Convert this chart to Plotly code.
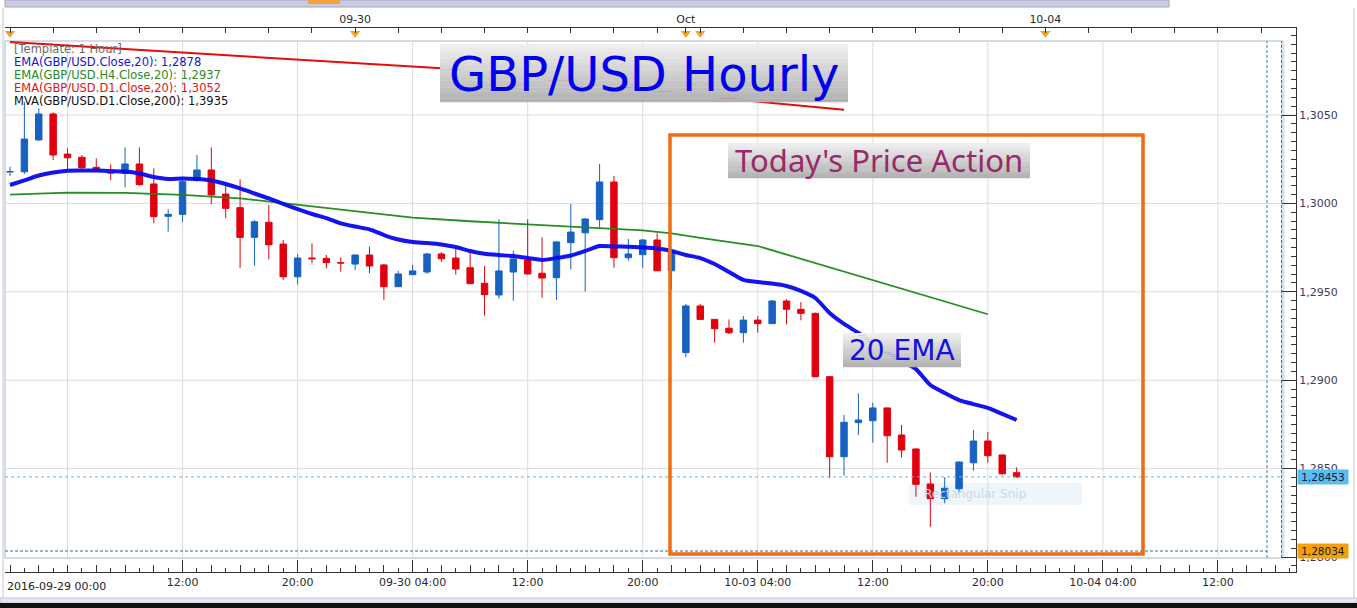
import plotly.graph_objects as go
import pandas as pd

# ---------------- data ----------------
times = (list(pd.date_range("2016-09-29 00:00", periods=47, freq="h"))
         + list(pd.date_range("2016-10-02 23:00", periods=24, freq="h")))
times = [t.strftime("%Y-%m-%d %H:%M") for t in times]

opens = [1.30178, 1.30179, 1.30359, 1.30506, 1.30279, 1.30261, 1.30204, 1.30176, 1.30170, 1.30223,
         1.30110, 1.29927, 1.29938, 1.30132, 1.30189, 1.30053, 1.29976, 1.29808, 1.29893, 1.29770,
         1.29585, 1.29691, 1.29689, 1.29666, 1.29657, 1.29708, 1.29652, 1.29529, 1.29597, 1.29612,
         1.29714, 1.29691, 1.29636, 1.29548, 1.29482, 1.29612, 1.29680, 1.29605, 1.29580, 1.29778,
         1.29834, 1.29908, 1.30121, 1.29693, 1.29710, 1.29793, 1.29619, 1.29156, 1.29420, 1.29344,
         1.29294, 1.29269, 1.29340, 1.29320, 1.29448, 1.29401, 1.29378, 1.29020, 1.28567, 1.28760,
         1.28771, 1.28843, 1.28690, 1.28611, 1.28413, 1.28330, 1.28386, 1.28533, 1.28656, 1.28577,
         1.28477]
highs = [1.30208, 1.30574, 1.30538, 1.30515, 1.30312, 1.30274, 1.30255, 1.30221, 1.30317, 1.30317,
         1.30199, 1.29967, 1.30132, 1.30274, 1.30317, 1.30104, 1.30136, 1.29906, 1.29991, 1.29793,
         1.29714, 1.29774, 1.29708, 1.29695, 1.29712, 1.29755, 1.29657, 1.29618, 1.29652, 1.29720,
         1.29725, 1.29752, 1.29725, 1.29646, 1.29910, 1.29731, 1.29910, 1.29808, 1.29785, 1.29997,
         1.29917, 1.30223, 1.30155, 1.29799, 1.29799, 1.29831, 1.29736, 1.29431, 1.29431, 1.29346,
         1.29344, 1.29363, 1.29363, 1.29454, 1.29458, 1.29442, 1.29383, 1.29024, 1.28803, 1.28926,
         1.28873, 1.28846, 1.28747, 1.28614, 1.28479, 1.28451, 1.28540, 1.28718, 1.28707, 1.28580,
         1.28507]
lows = [1.30155, 1.30166, 1.30355, 1.30245, 1.30193, 1.30195, 1.30179, 1.30132, 1.30091, 1.30100,
        1.29887, 1.29840, 1.29893, 1.30123, 1.29995, 1.29916, 1.29636, 1.29648, 1.29684, 1.29567,
        1.29542, 1.29661, 1.29633, 1.29614, 1.29623, 1.29605, 1.29454, 1.29527, 1.29595, 1.29601,
        1.29670, 1.29597, 1.29544, 1.29365, 1.29463, 1.29450, 1.29598, 1.29467, 1.29454, 1.29627,
        1.29501, 1.29865, 1.29636, 1.29676, 1.29636, 1.29618, 1.29510, 1.29130, 1.29343, 1.29212,
        1.29260, 1.29212, 1.29269, 1.29318, 1.29316, 1.29339, 1.29017, 1.28447, 1.28460, 1.28690,
        1.28646, 1.28533, 1.28562, 1.28341, 1.28171, 1.28304, 1.28360, 1.28488, 1.28533, 1.28464,
        1.28450]
closes = [1.30180, 1.30364, 1.30506, 1.30274, 1.30258, 1.30202, 1.30189, 1.30172, 1.30223, 1.30106,
          1.29925, 1.29938, 1.30123, 1.30189, 1.30048, 1.29972, 1.29808, 1.29896, 1.29766, 1.29585,
          1.29691, 1.29687, 1.29665, 1.29663, 1.29708, 1.29646, 1.29529, 1.29601, 1.29618, 1.29714,
          1.29687, 1.29629, 1.29546, 1.29484, 1.29618, 1.29686, 1.29601, 1.29578, 1.29782, 1.29838,
          1.29912, 1.30121, 1.29693, 1.29714, 1.29793, 1.29619, 1.29719, 1.29420, 1.29344, 1.29291,
          1.29269, 1.29340, 1.29320, 1.29448, 1.29401, 1.29378, 1.29020, 1.28567, 1.28762, 1.28775,
          1.28843, 1.28686, 1.28605, 1.28411, 1.28330, 1.28389, 1.28537, 1.28656, 1.28573, 1.28471,
          1.28453]

ema20 = [1.30104, 1.30130, 1.30158, 1.30175, 1.30185, 1.30186, 1.30186, 1.30183, 1.30180, 1.30169,
         1.30149, 1.30138, 1.30141, 1.30138, 1.30130, 1.30110, 1.30085, 1.30056, 1.30028, 1.29997,
         1.29968, 1.29940, 1.29917, 1.29887, 1.29869, 1.29853, 1.29821, 1.29796, 1.29782, 1.29776,
         1.29768, 1.29753, 1.29731, 1.29715, 1.29708, 1.29702, 1.29691, 1.29680, 1.29691, 1.29705,
         1.29731, 1.29759, 1.29756, 1.29755, 1.29751, 1.29745, 1.29731, 1.29708, 1.29691, 1.29657,
         1.29612, 1.29567, 1.29555, 1.29547, 1.29533, 1.29505, 1.29465, 1.29380, 1.29318, 1.29267,
         1.29210, 1.29159, 1.29109, 1.29063, 1.28973, 1.28928, 1.28888, 1.28865, 1.28843, 1.28809,
         1.28775]

h4_slots = [0, 4, 8, 12, 16, 20, 24, 28, 32, 36, 40, 44, 46, 48, 52, 68]
h4_vals = [1.30050, 1.30061, 1.30059, 1.30048, 1.30029, 1.29993, 1.29960, 1.29920, 1.29899, 1.29881,
           1.29864, 1.29847, 1.29831, 1.29805, 1.29759, 1.29373]

d1_slots = [0, 30, 53, 58]
d1_vals = [1.30913, 1.30764, 1.30568, 1.30530]

last_price = 1.28453
low_line = 1.28034

legend_lines = ["[Template: 1 Hour]",
                "EMA(GBP/USD.Close,20): 1,2878",
                "EMA(GBP/USD.H4.Close,20): 1,2937",
                "EMA(GBP/USD.D1.Close,20): 1,3052",
                "MVA(GBP/USD.D1.Close,200): 1,3935"]
legend_colors = ["#6a6a6a", "#1414d2", "#2a8a2a", "#e01414", "#111111"]

price_ticks = [1.2800, 1.2850, 1.2900, 1.2950, 1.3000, 1.3050]
bottom_ticks = [4, 12, 20, 28, 36, 44, 52, 60, 68, 76, 84]
bottom_labels = ["", "12:00", "20:00", "09-30 04:00", "12:00", "20:00", "10-03 04:00",
                 "12:00", "20:00", "10-04 04:00", "12:00"]
first_label = "2016-09-29 00:00"
top_ticks = list(range(0, 46, 3)) + [47] + list(range(48, 90, 3))
top_label_map = {24: "09-30", 47: "Oct", 72: "10-04"}
marker_slots = [0, 24, 47, 48, 72]

slots = list(range(len(opens)))

# ---------------- layout helpers (pixel -> paper) ----------------
L, R, T, B = 5, 1296, 28, 572
def px(x):
    return (x - L) / (R - L)
def py(y):
    return (B - y) / (B - T)

FONT = "DejaVu Sans"
fig = go.Figure()

fig.add_trace(go.Candlestick(
    x=slots, open=opens, high=highs, low=lows, close=closes, text=times,
    increasing=dict(line=dict(color="#1761c1", width=1), fillcolor="#1761c1"),
    decreasing=dict(line=dict(color="#e1000e", width=1), fillcolor="#e1000e"),
    whiskerwidth=0, showlegend=False, hoverinfo="skip"))

fig.add_trace(go.Scatter(x=d1_slots, y=d1_vals, mode="lines",
                         line=dict(color="#e30d0d", width=2), showlegend=False, hoverinfo="skip"))
fig.add_trace(go.Scatter(x=h4_slots, y=h4_vals, mode="lines", opacity=0.95,
                         line=dict(color="#1a8a1a", width=1.8), showlegend=False, hoverinfo="skip"))
fig.add_trace(go.Scatter(x=slots, y=ema20, mode="lines", opacity=0.95,
                         line=dict(color="#0808ee", width=4, shape="spline", smoothing=0.6),
                         showlegend=False, hoverinfo="skip"))

# top-axis event markers
fig.add_trace(go.Scatter(x=marker_slots, y=[0.9905] * len(marker_slots), xaxis="x", yaxis="y2",
                         mode="markers", cliponaxis=False,
                         marker=dict(symbol="triangle-down", size=9, color="#f2a02a"),
                         showlegend=False, hoverinfo="skip"))
# dummy traces so the extra axes exist
fig.add_trace(go.Scatter(x=[0], y=[1.29], xaxis="x2", mode="none", showlegend=False, hoverinfo="skip"))
fig.add_trace(go.Scatter(x=[0], y=[1.29], xaxis="x3", mode="none", showlegend=False, hoverinfo="skip"))

xr = [-(10 - L) / 14.38, (R - 10) / 14.38]
yr = [1.279152, 1.309921]

shapes = []
# snip box (under everything)
shapes.append(dict(type="rect", xref="paper", yref="paper", x0=px(909), x1=px(1082), y0=py(505), y1=py(483),
                   fillcolor="#eef5fb", line=dict(width=0), layer="below"))
# grid lines
for t in bottom_ticks:
    shapes.append(dict(type="line", xref="x", yref="paper", x0=t, x1=t, y0=py(558), y1=py(41),
                       line=dict(color="#dcdcdc", width=1), layer="below"))
for p in price_ticks[1:]:
    shapes.append(dict(type="line", xref="paper", yref="y", x0=0, x1=px(1296), y0=p, y1=p,
                       line=dict(color="#dcdcdc", width=1), layer="below"))
# inner frame
shapes.append(dict(type="rect", xref="paper", yref="paper", x0=0, x1=px(1282), y0=py(558), y1=py(41),
                   line=dict(color="#c6d0dc", width=1.5), layer="below"))
shapes.append(dict(type="line", xref="paper", yref="paper", x0=px(1283.5), x1=px(1283.5), y0=py(558), y1=py(41),
                   line=dict(color="#cfe6f5", width=2), layer="below"))
for xv in (1267, 1281.5):
    shapes.append(dict(type="line", xref="paper", yref="paper", x0=px(xv), x1=px(xv), y0=py(558), y1=py(41),
                       line=dict(color="#3a78b5", width=1, dash="3px,2px"), layer="above"))
# horizontal price lines
shapes.append(dict(type="line", xref="paper", yref="y", x0=0, x1=px(1282), y0=last_price, y1=last_price,
                   line=dict(color="#5cb8e6", width=1, dash="3px,3px"), layer="above"))
shapes.append(dict(type="line", xref="paper", yref="y", x0=0, x1=px(1267), y0=low_line, y1=low_line,
                   line=dict(color="#2f6aa8", width=1, dash="3px,2px"), layer="above"))

# gradient label boxes
def grad_box(x0, x1, y0, y1, top=(238, 238, 238), bot=(178, 178, 178), n=16):
    h = (y1 - y0) / n
    for i in range(n):
        f = i / (n - 1)
        c = tuple(int(top[k] + (bot[k] - top[k]) * f) for k in range(3))
        shapes.append(dict(type="rect", xref="paper", yref="paper",
                           x0=px(x0), x1=px(x1), y0=py(y0 + (i + 1) * h + 0.3), y1=py(y0 + i * h),
                           fillcolor="rgb(%d,%d,%d)" % c, line=dict(width=0), layer="above"))

grad_box(440, 848, 44, 102)
grad_box(728, 1030, 143, 178)
grad_box(843, 961, 333, 367)

# orange "today" rectangle
shapes.append(dict(type="rect", xref="paper", yref="paper", x0=px(670), x1=px(1143), y0=py(554), y1=py(135),
                   line=dict(color="#f26b12", width=3.5), layer="above"))

# window chrome
shapes.append(dict(type="rect", xref="paper", yref="paper", x0=px(5), x1=px(1169), y0=py(7), y1=py(0),
                   fillcolor="#cacbe0", line=dict(color="#a3a5bf", width=1), layer="above"))
shapes.append(dict(type="rect", xref="paper", yref="paper", x0=px(308), x1=px(340), y0=py(4), y1=py(0),
                   fillcolor="#f4a23a", line=dict(width=0), layer="above"))
shapes.append(dict(type="line", xref="paper", yref="paper", x0=px(3), x1=px(3), y0=py(598), y1=py(8),
                   line=dict(color="#c4c6d0", width=1), layer="above"))
shapes.append(dict(type="line", xref="paper", yref="paper", x0=px(1354), x1=px(1354), y0=py(598), y1=py(8),
                   line=dict(color="#c4c6d0", width=1), layer="above"))
shapes.append(dict(type="rect", xref="paper", yref="paper", x0=px(0), x1=px(1357), y0=py(603), y1=py(598),
                   fillcolor="#e6e6ee", line=dict(color="#c4c6d0", width=1), layer="above"))
shapes.append(dict(type="rect", xref="paper", yref="paper", x0=px(0), x1=px(1357), y0=py(608), y1=py(603),
                   fillcolor="#111111", line=dict(width=0), layer="above"))

def ann(x, y, text, size, color, family=FONT, xanchor="center", **kw):
    return dict(xref="paper", yref="paper", x=x, y=y, text=text, showarrow=False,
                xanchor=xanchor, yanchor="middle",
                font=dict(family=family, size=size, color=color), **kw)

annotations = []
for i, (txt, col) in enumerate(zip(legend_lines, legend_colors)):
    annotations.append(ann(px(12), py(49 + 13 * i), txt, 11.5, col, xanchor="left"))
annotations.append(ann(px(644), py(74), "GBP/USD Hourly", 48, "#0000ee"))
annotations.append(ann(px(879), py(160.5), "Today's Price Action", 31, "#982a68", family="Noto Sans"))
annotations.append(ann(px(902), py(350), "20 EMA", 28, "#1010e0"))
annotations.append(ann(px(975), py(494), "Rectangular Snip", 12, "#cbd8e4"))
annotations.append(ann(0, py(586), first_label, 11, "#222222", xanchor="left"))
annotations.append(dict(xref="paper", yref="y", x=px(1297), y=last_price, text="1,28453",
                        xanchor="left", yanchor="middle", showarrow=False, bgcolor="#5bbcf0",
                        width=50, height=14, borderpad=0, align="center",
                        font=dict(family=FONT, size=10.5, color="#0b1a33")))
annotations.append(dict(xref="paper", yref="y", x=px(1297), y=low_line, text="1,28034",
                        xanchor="left", yanchor="middle", showarrow=False, bgcolor="#f5a00a",
                        width=50, height=14, borderpad=0, align="center",
                        font=dict(family=FONT, size=10.5, color="#1a1a1a")))

tickfont = dict(family=FONT, size=11, color="#2a2a2a")
fig.update_layout(
    width=1357, height=608,
    margin=dict(l=L, r=1357 - R, t=T, b=608 - B, autoexpand=False),
    paper_bgcolor="white", plot_bgcolor="white",
    separators=", ",
    boxgap=0.36,
    showlegend=False,
    xaxis=dict(range=xr, showgrid=False, zeroline=False, showline=True, linecolor="#333333",
               ticks="inside", ticklen=12, tickcolor="#333333", automargin=False,
               tickmode="array", tickvals=bottom_ticks, ticktext=bottom_labels,
               tickfont=tickfont, rangeslider=dict(visible=False), fixedrange=True,
               minor=dict(tickmode="array", tickvals=list(range(0, 90)), ticks="inside",
                          ticklen=4, tickcolor="#333333", showgrid=False)),
    xaxis2=dict(range=xr, overlaying="x", side="top", anchor="y", showgrid=False, zeroline=False,
                showline=True, linecolor="#333333", ticks="inside", ticklen=5, tickcolor="#333333",
                tickmode="array", tickvals=top_ticks, automargin=False,
                ticktext=[top_label_map.get(t, "") for t in top_ticks], tickfont=tickfont),
    xaxis3=dict(range=xr, overlaying="x", side="bottom", anchor="y", showgrid=False, zeroline=False,
                showline=False, ticks="inside", ticklen=7, tickcolor="#333333", automargin=False,
                tickmode="array", tickvals=list(range(0, 90, 2)), showticklabels=False),
    yaxis=dict(range=yr, side="right", showgrid=False, zeroline=False, showline=True,
               linecolor="#333333", ticks="inside", ticklen=14, tickcolor="#333333",
               tickmode="array", tickvals=price_ticks, tickformat=".4f", automargin=False,
               tickfont=dict(family=FONT, size=11, color="#3a3a5a"), fixedrange=True,
               minor=dict(dtick=0.0005, tick0=1.28, ticks="inside", ticklen=5,
                          tickcolor="#333333", showgrid=False)),
    yaxis2=dict(range=[0, 1], overlaying="y", visible=False, automargin=False),
    shapes=shapes,
    annotations=annotations,
)

fig.write_html("out.html", config={"displayModeBar": False},
               post_script="document.body.style.margin='0px';document.body.style.overflow='hidden';")
